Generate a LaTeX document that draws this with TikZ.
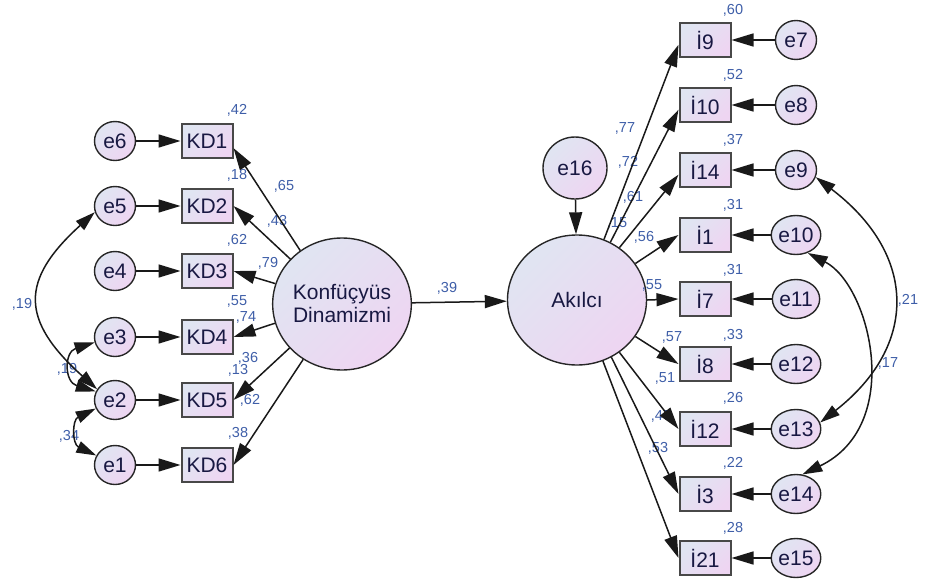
\documentclass[tikz,border=0pt]{standalone}
\usepackage{fontspec}
\setmainfont{Liberation Sans}
\usetikzlibrary{shapes.geometric,arrows.meta}
\definecolor{fillA}{RGB}{224,229,242}
\definecolor{fillB}{RGB}{238,213,242}
\definecolor{txt}{RGB}{24,24,66}
\definecolor{lbl}{RGB}{62,94,168}
\definecolor{boxline}{RGB}{72,72,72}
\tikzset{
  shadefill/.style={top color=fillA,bottom color=fillB,shading angle=45},
  bigfont/.style={font=\fontsize{21}{23}\selectfont},
  obs/.style={rectangle,shadefill,draw=boxline,line width=2pt,minimum width=51pt,
    minimum height=34pt,inner sep=0pt,bigfont,text=txt},
  err/.style={ellipse,shadefill,draw=black!85,line width=1.4pt,minimum width=41pt,
    minimum height=39pt,inner sep=0pt,bigfont,text=txt},
  lat/.style={ellipse,shadefill,draw=black!85,line width=1.4pt,inner sep=0pt,
    bigfont,text=txt,align=center},
  coef/.style={font=\fontsize{14.5}{15}\selectfont,text=lbl,inner sep=0pt},
  pathline/.style={line width=1.5pt,draw=black!90,-{Triangle[length=22pt,width=13pt]}},
  covline/.style={line width=1.5pt,draw=black!90,
    {Triangle[length=20pt,width=12pt]}-{Triangle[length=20pt,width=12pt]}},
}
\begin{document}
\begin{tikzpicture}[x=1pt,y=-1pt]
\useasboundingbox (0,0) rectangle (926,586);

% latent variables
\node[lat,minimum width=137pt,minimum height=132pt] (K) at (342,304) {Konfüçyüs\\Dinamizmi};
\node[lat,minimum width=139pt,minimum height=130pt] (A) at (577,300) {Akılcı};
\node[lat,minimum width=64pt,minimum height=62pt] (e16) at (575,168) {e16};

% left indicators and their errors
\foreach \n/\y in {1/141,2/206,3/271,4/337,5/400,6/465}{
  \node[obs] (KD\n) at (207,\y) {KD\n};
}
\node[err] (e6) at (115,141) {e6};
\node[err] (e5) at (115,206) {e5};
\node[err] (e4) at (115,271) {e4};
\node[err] (e3) at (115,337) {e3};
\node[err] (e2) at (115,400) {e2};
\node[err] (e1) at (115,465) {e1};

% right indicators and their errors
\node[obs] (i9)  at (705,40)  {İ9};
\node[obs] (i10) at (705,105) {İ10};
\node[obs] (i14) at (705,170) {İ14};
\node[obs] (i1)  at (705,235) {İ1};
\node[obs] (i7)  at (705,299) {İ7};
\node[obs] (i8)  at (705,364) {İ8};
\node[obs] (i12) at (705,429) {İ12};
\node[obs] (i3)  at (705,494) {İ3};
\node[obs] (i21) at (705,558) {İ21};
\node[err] (e7)  at (796,40)  {e7};
\node[err] (e8)  at (796,105) {e8};
\node[err] (e9)  at (796,170) {e9};
\node[err] (e10) at (796,235) {e10};
\node[err] (e11) at (796,299) {e11};
\node[err] (e12) at (796,364) {e12};
\node[err] (e13) at (796,429) {e13};
\node[err] (e14) at (796,494) {e14};
\node[err] (e15) at (796,558) {e15};

% squared multiple correlations, left
\node[coef] (r1) at (237,110) {,42};
\node[coef] (r2) at (237,175) {,18};
\node[coef] (r3) at (237,240) {,62};
\node[coef] (r4) at (237,301) {,55};
\node[coef] (r5) at (238,370) {,13};
\node[coef] (r6) at (238,433) {,38};
% loadings, left
\node[coef] (l1) at (284,186) {,65};
\node[coef] (l2) at (277,221) {,43};
\node[coef] (l3) at (268,263) {,79};
\node[coef] (l4) at (246,317) {,74};
\node[coef] (l5) at (248,358) {,36};
\node[coef] (l6) at (250,400) {,62};
% error covariances, left
\node[coef] (c1) at (22,304) {,19};
\node[coef] (c2) at (67,369) {,19};
\node[coef] (c3) at (69,436) {,34};
% structural path
\node[coef] (b1) at (447,288) {,39};
% squared multiple correlations, right
\node[coef] (s9)  at (733,10)  {,60};
\node[coef] (s10) at (733,75)  {,52};
\node[coef] (s14) at (733,140) {,37};
\node[coef] (s1)  at (733,205) {,31};
\node[coef] (s7)  at (733,270) {,31};
\node[coef] (s8)  at (733,335) {,33};
\node[coef] (s12) at (733,398) {,26};
\node[coef] (s3)  at (733,463) {,22};
\node[coef] (s21) at (733,528) {,28};
\node[coef] (sA)  at (617,223) {,15};
% loadings, right
\node[coef] (m9)  at (625,128) {,77};
\node[coef] (m10) at (628,162) {,72};
\node[coef] (m14) at (633,197) {,61};
\node[coef] (m1)  at (644,237) {,56};
\node[coef] (m7)  at (652,285) {,55};
\node[coef] (m8)  at (672,337) {,57};
\node[coef] (m12) at (665,378) {,51};
\node[coef] (m3)  at (661,416) {,47};
\node[coef] (m21) at (658,448) {,53};
% error covariances, right
\node[coef] (c4) at (908,300) {,21};
\node[coef] (c5) at (888,363) {,17};

% paths from Konfüçyüs Dinamizmi
\draw[pathline] (K.128) -- (KD1.-15);
\draw[pathline] (K.139) -- (KD2.east);
\draw[pathline] (K.163) -- (KD3.east);
\draw[pathline] (K.196) -- (KD4.east);
\draw[pathline] (K.220) -- (KD5.east);
\draw[pathline] (K.235) -- (KD6.east);
% error terms, left
\draw[pathline] (e6) -- (KD1);
\draw[pathline] (e5) -- (KD2);
\draw[pathline] (e4) -- (KD3);
\draw[pathline] (e3) -- (KD4);
\draw[pathline] (e2) -- (KD5);
\draw[pathline] (e1) -- (KD6);
% covariances, left
\draw[covline] (e5.197) .. controls (20,280) and (20,320) .. (e2.149);
\draw[covline] (e3.195) .. controls (64,352) and (64,382) .. (e2.156);
\draw[covline] (e2.204) .. controls (72,420) and (72,444) .. (e1.153);

% structural path and disturbance
\draw[pathline] (K) -- (A);
\draw[pathline] (e16) -- (A);

% paths from Akılcı
\draw[pathline] (A.66)  -- (i9.190);
\draw[pathline] (A.60)  -- (i10.190);
\draw[pathline] (A.51)  -- (i14.190);
\draw[pathline] (A.32)  -- (i1.west);
\draw[pathline] (A.0)   -- (i7.west);
\draw[pathline] (A.-32) -- (i8.west);
\draw[pathline] (A.-51) -- (i12.west);
\draw[pathline] (A.-59) -- (i3.west);
\draw[pathline] (A.-67) -- (i21.west);
% error terms, right
\draw[pathline] (e7)  -- (i9);
\draw[pathline] (e8)  -- (i10);
\draw[pathline] (e9)  -- (i14);
\draw[pathline] (e10) -- (i1);
\draw[pathline] (e11) -- (i7);
\draw[pathline] (e12) -- (i8);
\draw[pathline] (e13) -- (i12);
\draw[pathline] (e14) -- (i3);
\draw[pathline] (e15) -- (i21);
% covariances, right
\draw[covline] (e9.-20) .. controls (918,255) and (918,346) .. (e13.15);
\draw[covline] (e10.-57) .. controls (870,285) and (905,425) .. (e14.72);
\end{tikzpicture}
\end{document}
